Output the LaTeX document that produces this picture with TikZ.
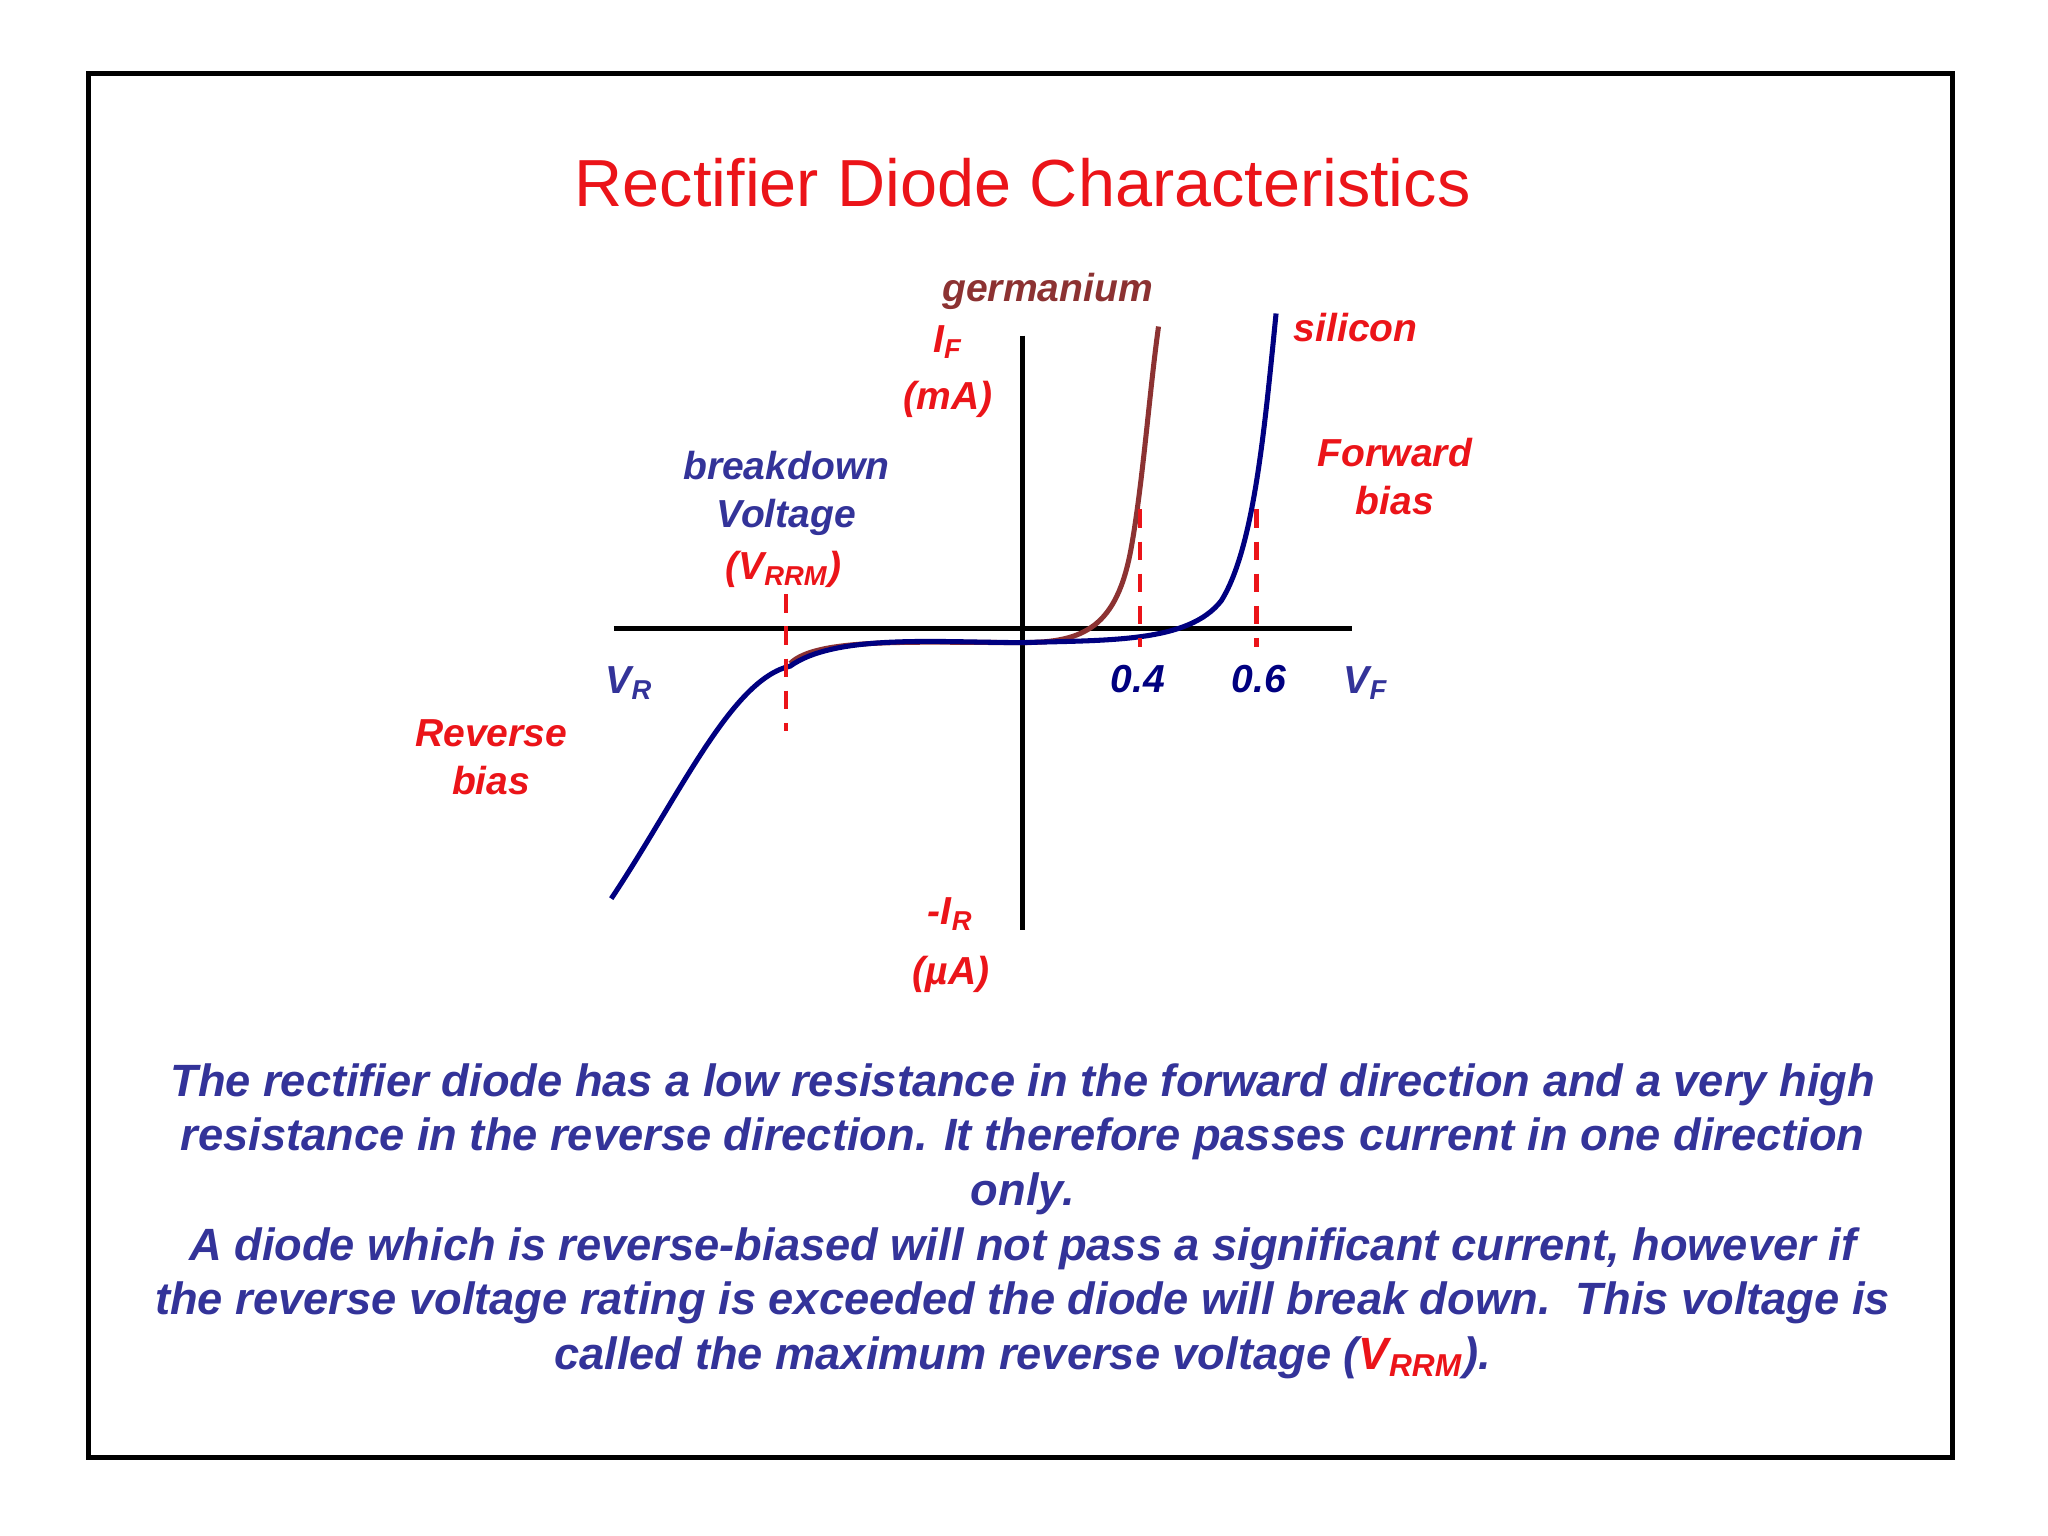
\documentclass[tikz,border=0pt]{standalone}
\usepackage{fontspec}
\setmainfont{Liberation Sans}
\definecolor{tred}{RGB}{235,20,25}
\definecolor{tblue}{RGB}{51,51,153}
\definecolor{cnavy}{RGB}{0,0,128}
\definecolor{brown1}{RGB}{140,50,50}
\begin{document}
\begin{tikzpicture}[x=0.01cm,y=-0.01cm,
  lab/.style={font=\bfseries\itshape\fontsize{8.5}{10.5}\selectfont,align=center,inner sep=0},
  dsh/.style={tred,dashed,line width=0.9pt,dash pattern=on 4pt off 3pt}]
\useasboundingbox (0,0) rectangle (1568,1176);
\draw[line width=1.1pt] (68,56) rectangle (1495,1116);
\node[tred,font=\fontsize{14.5}{17}\selectfont] (title) at (783,140) {Rectifier Diode Characteristics};
% axes
\coordinate (xl) at (470,481); \coordinate (xr) at (1035,481);
\coordinate (yt) at (783,257); \coordinate (yb) at (783,712);
\draw[line width=1pt] (xl) -- (xr);
\draw[line width=1pt] (yt) -- (yb);
% curves
\draw[brown1,line width=1.1pt] (605,508) .. controls (625,488) and (700,492) .. (783,492)
  .. controls (830,492) and (855,480) .. (866,420) .. controls (875,370) and (880,300) .. (887,250);
\draw[cnavy,line width=1.1pt] (468,688) .. controls (520,610) and (560,520) .. (605,510)
  .. controls (640,485) and (720,492) .. (783,492)
  .. controls (850,490) and (910,492) .. (935,460) .. controls (960,420) and (968,330) .. (977,240);
% dashed markers
\draw[dsh] (602,455) -- (602,560);
\draw[dsh] (873,390) -- (873,495);
\draw[dsh] (962,390) -- (962,495);
% labels
\node[lab,brown1] (ge) at (802,223) {germanium};
\node[lab,tred] (si) at (1038,251) {silicon};
\node[lab,tred] (if) at (726,262) {I\textsubscript{F}};
\node[lab,tred] (ma) at (726,306) {(mA)};
\node[lab,tblue] (bd) at (602,378) {breakdown\\Voltage};
\node[lab,tred] (vrrm) at (600,436) {(V\textsubscript{RRM})};
\node[lab,tred] (fb) at (1068,365) {Forward\\bias};
\node[lab,tblue] (vr) at (482,523) {V\textsubscript{R}};
\node[lab,cnavy] (p4) at (871,520) {0.4};
\node[lab,cnavy] (p6) at (964,520) {0.6};
\node[lab,tblue] (vf) at (1046,523) {V\textsubscript{F}};
\node[lab,tred] (rb) at (376,580) {Reverse\\bias};
\node[lab,tred] (ir) at (728,700) {-I\textsubscript{R}};
\node[lab,tred] (ua) at (728,746) {(µA)};
\node[lab,tblue,font=\bfseries\itshape\fontsize{9.85}{11.9}\selectfont] (body) at (783,935)
{The rectifier diode has a low resistance in the forward direction and a very high\\
resistance in the reverse direction. It therefore passes current in one direction\\
only.\\
A diode which is reverse-biased will not pass a significant current, however if\\
the reverse voltage rating is exceeded the diode will break down.\ \ This voltage is\\
called the maximum reverse voltage ({\color{tred}V\textsubscript{RRM}}).};
\end{tikzpicture}
\end{document}
